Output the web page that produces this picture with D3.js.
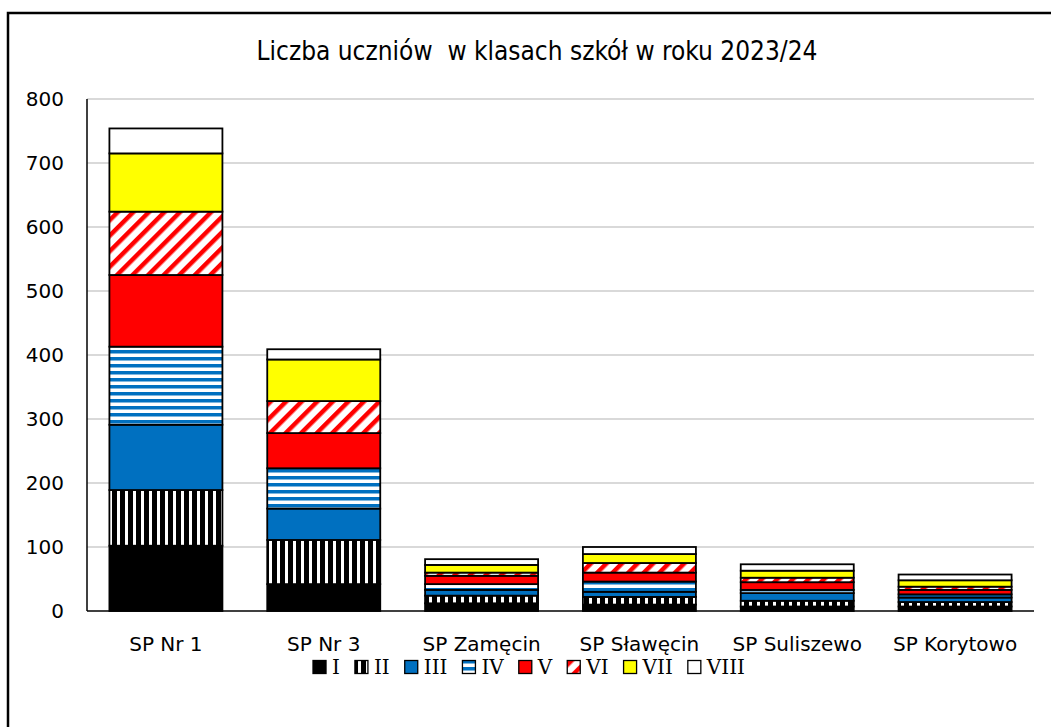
<!DOCTYPE html>
<html>
<meta charset="utf-8">
<title>Liczba uczniów</title>
<style>
body {
  margin: 0;
  font-family: "DejaVu Sans", sans-serif;
  background: #fff;
}
</style>
<body>
<div id="chart"></div>
<script src="https://d3js.org/d3.v7.min.js"></script>
<script>

var schools = ["SP Nr 1", "SP Nr 3", "SP Zamęcin", "SP Sławęcin", "SP Suliszewo", "SP Korytowo"];
var grades = ["I", "II", "III", "IV", "V", "VI", "VII", "VIII"];

// one array per grade, values per school (same order as schools)
var gradeI    = [102, 42, 12, 10, 7, 7];
var gradeII   = [87, 69, 12, 12, 9, 7];
var gradeIII  = [102, 49, 9, 8, 12, 7];
var gradeIV   = [122, 63, 9, 16, 5, 5];
var gradeV    = [112, 55, 13, 14, 12, 7];
var gradeVI   = [99, 50, 5, 15, 7, 5];
var gradeVII  = [91, 65, 12, 14, 11, 10];
var gradeVIII = [39, 16, 9, 11, 10, 9];

var yTicks = [0, 100, 200, 300, 400, 500, 600, 700, 800];

var title = "Liczba uczniów  w klasach szkół w roku 2023/24";

var width = 1051,
  height = 727;

var plot = { left: 87, right: 1034, top: 99, bottom: 611 };

var series = [gradeI, gradeII, gradeIII, gradeIV, gradeV, gradeVI, gradeVII, gradeVIII];

var table = schools.map(function(s, i) {
  var row = { school: s };
  grades.forEach(function(g, j) { row[g] = series[j][i]; });
  return row;
});

var stacked = d3.stack().keys(grades)(table);

var x = d3.scaleBand()
  .domain(schools)
  .range([plot.left, plot.right])
  .paddingInner(0.284)
  .paddingOuter(0.142);

var y = d3.scaleLinear()
  .domain([0, 800])
  .range([plot.bottom, plot.top]);

var svg = d3.select("#chart").append("svg")
  .attr("width", width)
  .attr("height", height)
  .style("display", "block");

// fills, some of them Excel-like patterns
var defs = svg.append("defs");

var p2 = defs.append("pattern").attr("id", "pII")
  .attr("patternUnits", "userSpaceOnUse").attr("width", 8).attr("height", 8);
p2.append("rect").attr("width", 8).attr("height", 8).attr("fill", "#fff");
p2.append("rect").attr("width", 5).attr("height", 8).attr("fill", "#000");

var p4 = defs.append("pattern").attr("id", "pIV")
  .attr("patternUnits", "userSpaceOnUse").attr("width", 8).attr("height", 7);
p4.append("rect").attr("width", 8).attr("height", 7).attr("fill", "#fff");
p4.append("rect").attr("width", 8).attr("height", 3.5).attr("fill", "#0070c0");

var p6 = defs.append("pattern").attr("id", "pVI")
  .attr("patternUnits", "userSpaceOnUse").attr("width", 11).attr("height", 11)
  .attr("patternTransform", "rotate(45)");
p6.append("rect").attr("width", 11).attr("height", 11).attr("fill", "#fff");
p6.append("rect").attr("width", 4.5).attr("height", 11).attr("fill", "#ff0000");

var fills = {
  "I": "#000000",
  "II": "url(#pII)",
  "III": "#0070c0",
  "IV": "url(#pIV)",
  "V": "#ff0000",
  "VI": "url(#pVI)",
  "VII": "#ffff00",
  "VIII": "#ffffff"
};

// chart border
svg.append("rect")
  .attr("x", 8)
  .attr("y", 13)
  .attr("width", 1100)
  .attr("height", 800)
  .attr("fill", "none")
  .attr("stroke", "#000")
  .attr("stroke-width", 2.5);

svg.append("text")
  .attr("x", 537)
  .attr("y", 60)
  .attr("text-anchor", "middle")
  .style("font-size", "26px")
  .style("font-family", "'DejaVu Sans Condensed', 'DejaVu Sans', sans-serif")
  .attr("fill", "#000")
  .style("white-space", "pre")
  .attr("xml:space", "preserve")
  .text(title);

// gridlines
svg.append("g").selectAll("line")
  .data(yTicks.filter(function(d) { return d > 0; }))
  .enter().append("line")
  .attr("x1", plot.left)
  .attr("x2", plot.right)
  .attr("y1", function(d) { return y(d); })
  .attr("y2", function(d) { return y(d); })
  .attr("stroke", "#d9d9d9")
  .attr("stroke-width", 2);

// y tick labels
svg.append("g").selectAll("text")
  .data(yTicks)
  .enter().append("text")
  .attr("x", 64)
  .attr("y", function(d) { return y(d); })
  .attr("dy", "0.36em")
  .attr("text-anchor", "end")
  .style("font-size", "20px")
  .attr("fill", "#000")
  .text(function(d) { return d; });

// bars
svg.append("g").selectAll("g")
  .data(stacked)
  .enter().append("g")
  .attr("fill", function(d) { return fills[d.key]; })
  .selectAll("rect")
  .data(function(d) { return d; })
  .enter().append("rect")
  .attr("x", function(d) { return x(d.data.school); })
  .attr("y", function(d) { return y(d[1]); })
  .attr("width", x.bandwidth())
  .attr("height", function(d) { return y(d[0]) - y(d[1]); })
  .attr("stroke", "#000")
  .attr("stroke-width", 1.8);

// axes lines
svg.append("line")
  .attr("x1", plot.left).attr("x2", plot.left)
  .attr("y1", plot.top).attr("y2", plot.bottom)
  .attr("stroke", "#000").attr("stroke-width", 1.5);

svg.append("line")
  .attr("x1", plot.left).attr("x2", plot.right)
  .attr("y1", plot.bottom).attr("y2", plot.bottom)
  .attr("stroke", "#000").attr("stroke-width", 1.5);

// category labels
svg.append("g").selectAll("text")
  .data(schools)
  .enter().append("text")
  .attr("x", function(d) { return x(d) + x.bandwidth() / 2; })
  .attr("y", 651)
  .attr("text-anchor", "middle")
  .style("font-size", "20px")
  .attr("fill", "#000")
  .text(function(d) { return d; });

// legend
var legend = svg.append("g");
var lx = 0;
grades.forEach(function(g) {
  legend.append("rect")
    .attr("x", lx)
    .attr("y", -6.5)
    .attr("width", 13)
    .attr("height", 13)
    .attr("fill", fills[g])
    .attr("stroke", "#000")
    .attr("stroke-width", 1.3);
  var t = legend.append("text")
    .attr("x", lx + 19)
    .attr("y", 0)
    .attr("dy", "0.36em")
    .style("font-size", "20px")
    .style("font-family", "'DejaVu Serif', serif")
    .attr("fill", "#000")
    .text(g);
  lx += 19 + t.node().getComputedTextLength() + 15;
});
var lw = lx - 15;
legend.attr("transform", "translate(" + (529 - lw / 2) + ",667)");

</script>
</body>
</html>
